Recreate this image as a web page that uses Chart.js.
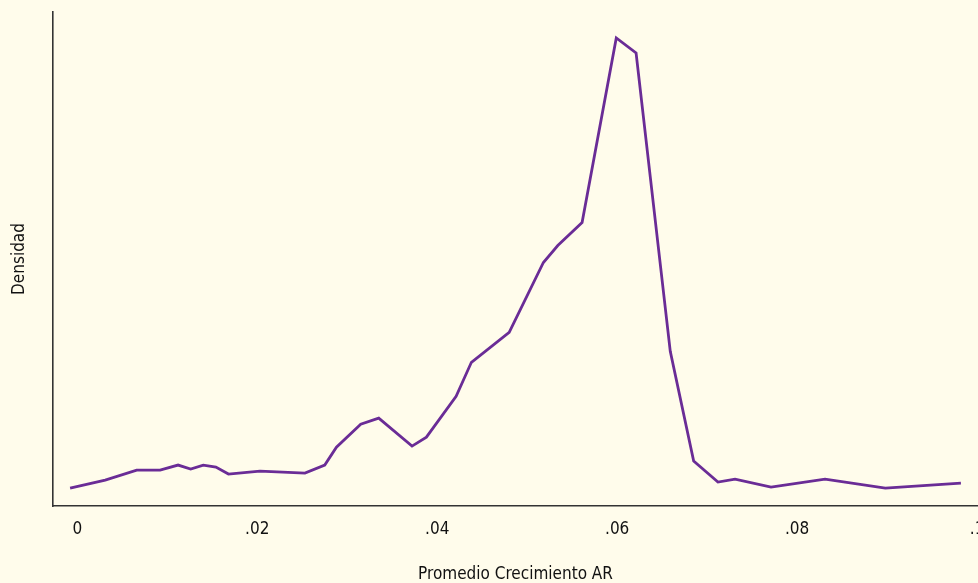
<!DOCTYPE html>
<html>
<head>
<meta charset="utf-8">
<script src="https://cdn.jsdelivr.net/npm/chart.js@4/dist/chart.umd.min.js"></script>
<style>
  html, body { margin: 0; padding: 0; background: #fffceb; overflow: hidden; }
  canvas { display: block; }
</style>
</head>
<body>
<canvas id="chart-densidad" width="978" height="583"></canvas>
<script>
// Promedio Crecimiento AR (x) and estimated kernel density (y)
var crecimiento = [-0.0008, 0.0031, 0.0066, 0.0092, 0.0112, 0.0126, 0.0140, 0.0154, 0.0168,
  0.0203, 0.0253, 0.0275, 0.0288, 0.0315, 0.0335, 0.0372, 0.0388, 0.0421, 0.0438,
  0.0480, 0.0518, 0.0534, 0.0561, 0.0599, 0.0621, 0.0659, 0.0685, 0.0712, 0.0731,
  0.0771, 0.0831, 0.0898, 0.0982];
var densidad = [1.8, 2.6, 3.6, 3.6, 4.1, 3.7, 4.1, 3.9, 3.2,
  3.5, 3.3, 4.1, 5.9, 8.2, 8.8, 6.0, 6.9, 11.0, 14.4,
  17.4, 24.4, 26.1, 28.4, 46.9, 45.4, 15.5, 4.5, 2.4, 2.7,
  1.9, 2.7, 1.8, 2.3];
var xTicks = [0, 0.02, 0.04, 0.06, 0.08, 0.1];

var axisFont = { family: "'DejaVu Sans Condensed', 'Liberation Sans Narrow', sans-serif", size: 17 };

var points = crecimiento.map((x, i) => ({ x: x, y: densidad[i] }));

const config = {
  type: 'line',
  data: {
    datasets: [{
      label: 'Densidad',
      data: points,
      borderColor: '#6a2c96',
      borderWidth: 2.8,
      pointRadius: 0,
      tension: 0,
      fill: false
    }]
  },
  options: {
    responsive: false,
    animation: false,
    layout: { padding: { top: 12, left: 0, right: 0, bottom: 0 }, autoPadding: false },
    plugins: {
      legend: { display: false },
      tooltip: { enabled: false }
    },
    scales: {
      x: {
        type: 'linear',
        min: -0.0027,
        max: 0.1001,
        afterBuildTicks: (scale) => { scale.ticks = xTicks.map((v) => ({ value: v })); },
        afterFit: (scale) => {
          // keep the plot running to the right edge, ".1" is cut like in the original
          scale.height = 77;
          scale.paddingLeft = 0;
          scale.paddingRight = 0;
        },
        grid: { display: false, drawTicks: false },
        border: { display: true, color: '#333333', width: 1.6 },
        ticks: {
          color: '#111111',
          font: axisFont,
          padding: 13,
          maxRotation: 0,
          autoSkip: false,
          callback: (v) => {
            var s = String(Math.round(v * 100) / 100);
            return s.replace(/^0\./, '.');
          }
        },
        title: {
          display: true,
          text: 'Promedio Crecimiento AR',
          color: '#111111',
          font: axisFont,
          padding: { top: 22, bottom: -2 }
        }
      },
      y: {
        min: 0,
        max: 49.5,
        afterFit: (scale) => { scale.width = 53; },
        grid: { display: false, drawTicks: false },
        border: { display: true, color: '#333333', width: 1.6 },
        ticks: { display: false },
        title: {
          display: true,
          text: 'Densidad',
          color: '#111111',
          font: axisFont,
          padding: { top: 9, bottom: 20 }
        }
      }
    }
  }
};

Chart.defaults.font.family = axisFont.family;
const myChart = new Chart(document.getElementById('chart-densidad'), config);
</script>
</body>
</html>
